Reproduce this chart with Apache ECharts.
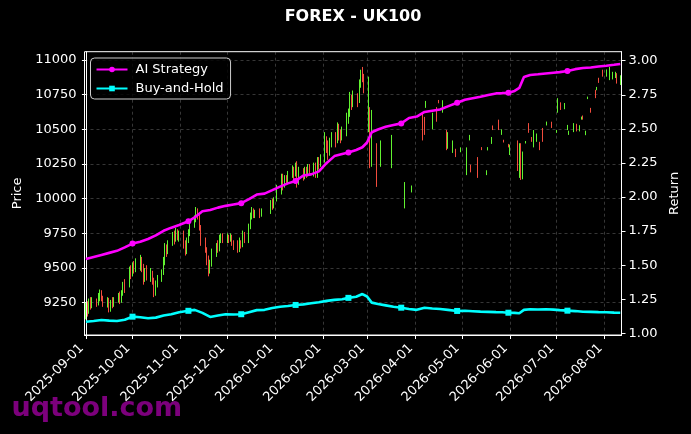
<!DOCTYPE html>
<html>
<head>
<meta charset="utf-8">
<script src="https://cdn.jsdelivr.net/npm/echarts@6/dist/echarts.min.js"></script>
<style>
html,body{margin:0;padding:0;background:#000;}
#chart{width:691px;height:434px;}
</style>
</head>
<body>
<div id="chart"></div>
<script>
// ---- data ----
const candles = [
['2025-09-01',9160,9230,9130,9250],['2025-09-02',9230,9180,9150,9260],['2025-09-03',9180,9250,9170,9280],
['2025-09-04',9250,9220,9200,9290],['2025-09-05',9220,9260,9210,9290],['2025-09-08',9260,9240,9220,9280],
['2025-09-09',9240,9300,9230,9320],['2025-09-10',9300,9330,9260,9345],['2025-09-11',9330,9280,9260,9340],
['2025-09-12',9280,9240,9220,9300],['2025-09-15',9240,9270,9215,9290],['2025-09-16',9270,9200,9180,9285],
['2025-09-17',9200,9250,9185,9270],['2025-09-18',9250,9230,9210,9290],['2025-09-19',9230,9270,9220,9290],
['2025-09-22',9270,9300,9250,9320],['2025-09-23',9300,9260,9240,9330],['2025-09-24',9260,9330,9250,9340],
['2025-09-25',9330,9380,9300,9400],['2025-09-26',9380,9350,9320,9420],['2025-09-29',9370,9480,9360,9510],
['2025-09-30',9480,9450,9420,9520],['2025-10-01',9450,9520,9440,9540],['2025-10-02',9520,9490,9460,9550],
['2025-10-03',9490,9540,9470,9570],['2025-10-06',9540,9570,9480,9595],['2025-10-07',9570,9500,9470,9580],
['2025-10-08',9500,9420,9380,9530],['2025-10-09',9420,9480,9400,9500],['2025-10-10',9480,9440,9410,9520],
['2025-10-13',9440,9460,9400,9500],['2025-10-14',9460,9400,9380,9480],['2025-10-15',9400,9320,9290,9430],
['2025-10-16',9320,9380,9300,9410],['2025-10-17',9380,9420,9360,9450],['2025-10-20',9420,9470,9400,9490],
['2025-10-21',9470,9560,9450,9580],['2025-10-22',9560,9640,9520,9680],['2025-10-23',9640,9610,9580,9670],
['2025-10-24',9610,9680,9600,9700],['2025-10-27',9680,9730,9660,9760],['2025-10-28',9730,9700,9670,9770],
['2025-10-29',9700,9760,9690,9790],['2025-10-30',9760,9720,9700,9780],['2025-10-31',9720,9750,9690,9770],
['2025-11-03',9750,9680,9640,9770],['2025-11-04',9680,9620,9590,9700],['2025-11-05',9620,9700,9600,9720],
['2025-11-06',9700,9760,9680,9780],['2025-11-07',9760,9820,9730,9850],['2025-11-10',9820,9860,9790,9880],
['2025-11-11',9860,9910,9830,9940],['2025-11-12',9910,9880,9850,9930],['2025-11-13',9880,9800,9770,9900],
['2025-11-14',9800,9700,9660,9810],['2025-11-17',9700,9640,9610,9720],['2025-11-18',9640,9560,9520,9650],
['2025-11-19',9560,9480,9440,9590],['2025-11-20',9480,9530,9460,9560],['2025-11-21',9530,9600,9510,9640],
['2025-11-24',9600,9660,9580,9680],['2025-11-25',9660,9630,9610,9700],['2025-11-26',9630,9700,9620,9740],
['2025-11-27',9700,9720,9680,9750],['2025-11-28',9720,9690,9680,9750],['2025-12-01',9690,9720,9680,9750],
['2025-12-02',9720,9700,9680,9740],['2025-12-03',9700,9730,9690,9750],['2025-12-04',9730,9680,9660,9740],
['2025-12-05',9680,9650,9630,9700],['2025-12-08',9650,9620,9610,9700],['2025-12-09',9620,9680,9615,9720],
['2025-12-10',9680,9660,9640,9700],['2025-12-11',9660,9740,9650,9770],['2025-12-12',9740,9700,9680,9760],
['2025-12-15',9700,9800,9680,9820],['2025-12-16',9800,9870,9780,9900],['2025-12-17',9870,9920,9850,9940],
['2025-12-18',9920,9880,9860,9930],['2025-12-19',9880,9900,9860,9920],['2025-12-22',9900,9880,9860,9930],
['2025-12-23',9880,9910,9870,9930],['2025-12-29',9910,9960,9890,9990],['2025-12-30',9960,9940,9920,10000],
['2025-12-31',9940,9990,9930,10010],['2026-01-02',9990,10060,9980,10100],['2026-01-05',10060,10150,10030,10180],
['2026-01-06',10150,10100,10060,10180],['2026-01-07',10100,10140,10080,10170],['2026-01-08',10140,10120,10100,10170],
['2026-01-09',10120,10180,10110,10200],['2026-01-12',10180,10200,10150,10240],['2026-01-13',10200,10170,10130,10230],
['2026-01-14',10170,10230,10160,10260],['2026-01-15',10230,10120,10080,10270],['2026-01-16',10120,10200,10100,10230],
['2026-01-19',10200,10160,10130,10220],['2026-01-20',10160,10210,10140,10230],['2026-01-21',10210,10180,10150,10230],
['2026-01-22',10180,10220,10160,10250],['2026-01-23',10220,10200,10170,10250],['2026-01-26',10200,10240,10160,10260],
['2026-01-27',10240,10190,10150,10260],['2026-01-28',10190,10270,10150,10300],['2026-01-29',10270,10240,10210,10300],
['2026-01-30',10240,10300,10230,10320],['2026-02-02',10300,10420,10260,10480],['2026-02-03',10420,10380,10330,10450],
['2026-02-04',10380,10330,10280,10420],['2026-02-05',10330,10400,10310,10440],['2026-02-06',10400,10450,10370,10480],
['2026-02-09',10450,10410,10370,10480],['2026-02-10',10410,10500,10400,10550],['2026-02-11',10500,10460,10420,10540],
['2026-02-12',10460,10440,10400,10500],['2026-02-13',10440,10480,10420,10520],['2026-02-16',10480,10560,10450,10620],
['2026-02-17',10560,10620,10540,10650],['2026-02-18',10620,10720,10590,10770],['2026-02-19',10720,10680,10640,10750],
['2026-02-20',10680,10740,10660,10780],['2026-02-23',10740,10700,10660,10760],['2026-02-24',10700,10820,10690,10860],
['2026-02-25',10820,10900,10800,10930],['2026-02-26',10900,10870,10840,10950],['2026-02-27',10870,10810,10760,10900],
['2026-03-02',10500,10860,10480,10880],['2026-03-03',10640,10300,10220,10660],['2026-03-04',10250,10600,10230,10640],
['2026-03-07',10380,10120,10085,10400],['2026-03-10',10250,10400,10230,10420],['2026-03-17',10240,10440,10220,10460],
['2026-03-25',9940,10100,9930,10120],['2026-03-30',10050,10090,10045,10095],['2026-04-06',10600,10440,10420,10620],
['2026-04-07',10560,10470,10460,10590],['2026-04-08',10660,10700,10655,10705],['2026-04-12',10510,10600,10500,10620],
['2026-04-15',10650,10570,10555,10660],['2026-04-16',10710,10690,10688,10712],['2026-04-19',10630,10700,10620,10710],
['2026-04-21',10480,10380,10350,10495],['2026-04-22',10380,10450,10360,10480],['2026-04-25',10340,10400,10330,10420],
['2026-04-27',10350,10310,10300,10360],['2026-04-30',10340,10360,10335,10370],['2026-05-04',10180,10350,10170,10370],
['2026-05-06',10430,10455,10420,10460],['2026-05-07',10240,10200,10190,10245],['2026-05-11',10290,10170,10150,10300],
['2026-05-14',10370,10355,10350,10372],['2026-05-17',10175,10200,10170,10205],['2026-05-18',10350,10368,10348,10372],
['2026-05-20',10400,10440,10395,10445],['2026-05-21',10520,10500,10495,10528],['2026-05-25',10565,10500,10495,10570],
['2026-05-27',10465,10495,10460,10500],['2026-05-28',10420,10410,10405,10425],['2026-05-31',10390,10375,10370,10395],
['2026-06-01',10320,10380,10315,10390],['2026-06-06',10400,10250,10200,10420],['2026-06-07',10250,10380,10150,10400],
['2026-06-08',10380,10180,10135,10400],['2026-06-09',10180,10320,10140,10340],['2026-06-11',10400,10412,10398,10416],
['2026-06-13',10540,10480,10475,10545],['2026-06-15',10440,10415,10410,10445],['2026-06-16',10380,10480,10370,10495],
['2026-06-18',10420,10460,10410,10470],['2026-06-20',10405,10355,10350,10410],['2026-06-22',10505,10420,10410,10510],
['2026-06-25',10532,10552,10528,10556],['2026-06-28',10550,10515,10510,10555],['2026-07-01',10478,10492,10475,10495],
['2026-07-02',10630,10715,10620,10725],['2026-07-04',10690,10650,10640,10695],['2026-07-06',10650,10685,10645,10690],
['2026-07-08',10500,10528,10495,10532],['2026-07-09',10465,10485,10460,10490],['2026-07-12',10485,10535,10480,10545],
['2026-07-14',10530,10495,10485,10540],['2026-07-16',10490,10520,10485,10530],['2026-07-17',10572,10588,10570,10592],
['2026-07-18',10598,10575,10570,10600],['2026-07-20',10462,10488,10458,10490],['2026-07-21',10722,10733,10718,10736],
['2026-07-23',10650,10625,10620,10655],['2026-07-26',10780,10730,10725,10785],['2026-07-27',10785,10800,10782,10806],
['2026-07-28',10868,10838,10835,10872],['2026-07-31',10925,10890,10880,10930],['2026-08-02',10885,10925,10880,10932],
['2026-08-04',10860,10940,10855,10950],['2026-08-06',10870,10910,10860,10915],['2026-08-08',10880,10905,10870,10915],
['2026-08-09',10900,10840,10830,10905],['2026-08-11',10830,10880,10820,10890]
];

const lineDates = ['2025-09-01','2025-09-06','2025-09-11','2025-09-16','2025-09-21','2025-09-26','2025-10-01','2025-10-06',
'2025-10-11','2025-10-16','2025-10-21','2025-10-26','2025-10-31','2025-11-06','2025-11-10','2025-11-15','2025-11-20',
'2025-11-25','2025-11-30','2025-12-05','2025-12-10','2025-12-15','2025-12-20','2025-12-25','2025-12-30','2026-01-04',
'2026-01-09','2026-01-14','2026-01-19','2026-01-24','2026-01-29','2026-02-03','2026-02-08','2026-02-13','2026-02-17',
'2026-02-22','2026-02-26','2026-03-01','2026-03-04','2026-03-08','2026-03-13','2026-03-18','2026-03-23','2026-03-28',
'2026-04-02','2026-04-07','2026-04-12','2026-04-17','2026-04-22','2026-04-28','2026-05-03','2026-05-08','2026-05-13',
'2026-05-18','2026-05-23','2026-05-27','2026-05-31','2026-06-04','2026-06-07','2026-06-10','2026-06-14','2026-06-19',
'2026-06-24','2026-06-29','2026-07-03','2026-07-08','2026-07-13','2026-07-18','2026-07-23','2026-07-28','2026-08-02',
'2026-08-07','2026-08-11'];

const aiReturn = [1.545,1.560,1.575,1.590,1.605,1.630,1.658,1.672,1.692,1.718,1.752,1.775,1.795,1.822,1.850,1.895,1.905,
1.922,1.935,1.945,1.955,1.985,2.018,2.025,2.050,2.076,2.100,2.118,2.158,2.166,2.188,2.250,2.300,2.315,2.326,2.345,2.365,
2.400,2.475,2.495,2.515,2.528,2.540,2.580,2.590,2.624,2.633,2.642,2.665,2.692,2.714,2.725,2.736,2.748,2.760,2.762,2.765,
2.778,2.800,2.880,2.895,2.900,2.906,2.912,2.916,2.925,2.938,2.946,2.950,2.957,2.963,2.970,2.976];

const bhReturn = [1.085,1.090,1.097,1.093,1.090,1.100,1.122,1.118,1.110,1.115,1.130,1.140,1.155,1.165,1.172,1.150,1.120,
1.130,1.140,1.138,1.140,1.155,1.170,1.172,1.185,1.195,1.200,1.208,1.212,1.220,1.228,1.238,1.245,1.250,1.260,1.268,1.288,
1.270,1.225,1.215,1.205,1.195,1.188,1.178,1.172,1.188,1.182,1.178,1.172,1.164,1.165,1.162,1.159,1.157,1.155,1.154,1.151,
1.150,1.147,1.172,1.176,1.175,1.176,1.174,1.170,1.166,1.163,1.158,1.157,1.155,1.154,1.152,1.151];

const markerDates = ['2025-10-01','2025-11-06','2025-12-10','2026-01-14','2026-02-17','2026-03-23','2026-04-28','2026-05-31','2026-07-08'];

const xTicks = ['2025-09-01','2025-10-01','2025-11-01','2025-12-01','2026-01-01','2026-02-01','2026-03-01',
'2026-04-01','2026-05-01','2026-06-01','2026-07-01','2026-08-01'];
const priceTicks = [9250,9500,9750,10000,10250,10500,10750,11000];
const returnTicks = [1.00,1.25,1.50,1.75,2.00,2.25,2.50,2.75,3.00];

// ---- helpers: dates -> day number since the first tick ----
const DAY = 86400000;
const toUTC = s => { const p = s.split('-').map(Number); return Date.UTC(p[0], p[1] - 1, p[2]); };
const BASE = toUTC(xTicks[0]);
const dayNum = s => (toUTC(s) - BASE) / DAY;
const pad2 = n => (n < 10 ? '0' : '') + n;
const dayLabel = v => { const d = new Date(BASE + Math.round(v) * DAY); return d.getUTCFullYear() + '-' + pad2(d.getUTCMonth() + 1) + '-' + pad2(d.getUTCDate()); };
const xTickNums = xTicks.map(dayNum);
const markSet = new Set(markerDates);

const FONT = 'DejaVu Sans';
const gridLine = { show: true, lineStyle: { color: 'rgba(150,150,150,0.45)', type: [3, 3], width: 0.8 } };

const chart = echarts.init(document.getElementById('chart'), null, { renderer: 'canvas' });
chart.setOption({
  backgroundColor: '#000',
  animation: false,
  title: {
    text: 'FOREX - UK100', left: 353, top: 9, textAlign: 'center', padding: 0,
    textStyle: { color: '#fff', fontFamily: FONT, fontWeight: 'bold', fontSize: 16 }
  },
  legend: {
    orient: 'vertical', left: 90.5, top: 58, padding: [5, 7, 4, 5],
    itemWidth: 31, itemHeight: 7, itemGap: 6,
    borderColor: '#cccccc', borderWidth: 1, borderRadius: 4, backgroundColor: 'rgba(0,0,0,0.8)',
    textStyle: { color: '#fff', fontFamily: FONT, fontSize: 13, padding: [0, 0, 0, 3] },
    data: ['AI Strategy', 'Buy-and-Hold']
  },
  grid: {
    left: 84.5, right: 69.5, top: 51.7, bottom: 99,
    show: true, borderColor: '#fff', borderWidth: 1, backgroundColor: 'transparent',
    containLabel: false, outerBoundsMode: 'none'
  },
  xAxis: {
    type: 'value', min: -0.9, max: 344.8,
    axisLine: { lineStyle: { color: '#fff' } },
    axisTick: { show: true, length: 4, lineStyle: { color: '#fff' }, customValues: xTickNums },
    axisLabel: {
      customValues: xTickNums, rotate: 45, color: '#fff', fontFamily: FONT, fontSize: 13,
      margin: 7, padding: [0, 6, 0, 0], hideOverlap: false, formatter: v => dayLabel(v)
    },
    splitLine: gridLine
  },
  yAxis: [{
    type: 'value', min: 9017, max: 11060, position: 'left',
    name: 'Price', nameLocation: 'middle', nameGap: 58, nameRotate: 90,
    nameTextStyle: { color: '#fff', fontFamily: FONT, fontSize: 13 },
    axisLine: { show: true, lineStyle: { color: '#fff' } },
    axisTick: { show: true, length: 4, lineStyle: { color: '#fff' }, customValues: priceTicks },
    axisLabel: { customValues: priceTicks, color: '#fff', fontFamily: FONT, fontSize: 13, margin: 8, formatter: v => String(Math.round(v)) },
    splitLine: gridLine
  }, {
    type: 'value', min: 0.9875, max: 3.066, position: 'right',
    name: 'Return', nameLocation: 'middle', nameGap: 46, nameRotate: 90,
    nameTextStyle: { color: '#fff', fontFamily: FONT, fontSize: 13 },
    axisLine: { show: true, lineStyle: { color: '#fff' } },
    axisTick: { show: true, length: 4, lineStyle: { color: '#fff' }, customValues: returnTicks },
    axisLabel: { customValues: returnTicks, color: '#fff', fontFamily: FONT, fontSize: 13, margin: 7, formatter: v => v.toFixed(2) },
    splitLine: { show: false }
  }],
  graphic: [{
    type: 'text', x: 11.5, y: 408.5, z: -10, silent: true,
    style: { text: 'uqtool.com', fill: 'rgba(135,0,135,0.92)', font: 'bold 27px "DejaVu Sans"', verticalAlign: 'middle', align: 'left' }
  }],
  series: [{
    type: 'candlestick', name: 'Price', xAxisIndex: 0, yAxisIndex: 0,
    data: candles.map(c => [dayNum(c[0]), c[1], c[2], c[3], c[4]]), barWidth: 1,
    itemStyle: { color: '#66ff33', color0: '#ff5040', borderColor: '#66ff33', borderColor0: '#ff5040', borderColorDoji: '#66ff33', borderWidth: 1, opacity: 0.95 }
  }, {
    type: 'line', name: 'AI Strategy', yAxisIndex: 1, smooth: false,
    data: lineDates.map((d, i) => [dayNum(d), aiReturn[i]]),
    symbol: 'circle', showSymbol: true, showAllSymbol: true,
    symbolSize: (v, p) => (markSet.has(lineDates[p.dataIndex]) ? 6 : 0),
    lineStyle: { color: '#ff00ff', width: 2.6 }, itemStyle: { color: '#ff00ff' }, z: 5
  }, {
    type: 'line', name: 'Buy-and-Hold', yAxisIndex: 1, smooth: false,
    data: lineDates.map((d, i) => [dayNum(d), bhReturn[i]]),
    symbol: 'rect', showSymbol: true, showAllSymbol: true,
    symbolSize: (v, p) => (markSet.has(lineDates[p.dataIndex]) ? 6 : 0),
    lineStyle: { color: '#00ffff', width: 2.6 }, itemStyle: { color: '#00ffff' }, z: 5
  }]
});
</script>
</body>
</html>
